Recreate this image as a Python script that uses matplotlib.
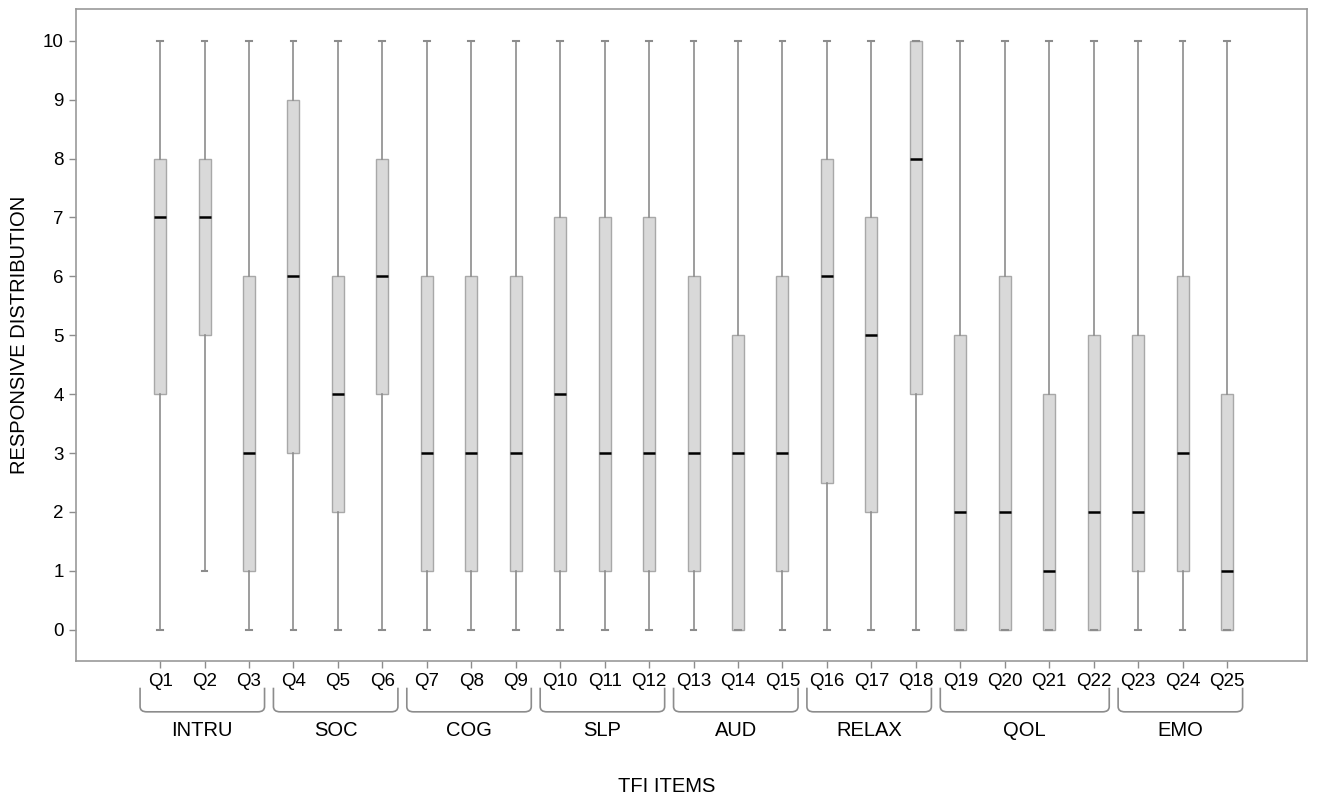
import numpy as np
import matplotlib
matplotlib.use("Agg")
import matplotlib.pyplot as plt
from matplotlib.path import Path
from matplotlib.patches import PathPatch
from matplotlib.transforms import blended_transform_factory

plt.rcParams['font.family'] = ['Liberation Sans', 'DejaVu Sans']

# data: min, q1, median, q3, max per item
items = ["Q%d" % i for i in range(1, 26)]
whislo = [0, 1, 0, 0, 0, 0, 0, 0, 0, 0, 0, 0, 0, 0, 0, 0, 0, 0, 0, 0, 0, 0, 0, 0, 0]
q1 = [4, 5, 1, 3, 2, 4, 1, 1, 1, 1, 1, 1, 1, 0, 1, 2.5, 2, 4, 0, 0, 0, 0, 1, 1, 0]
med = [7, 7, 3, 6, 4, 6, 3, 3, 3, 4, 3, 3, 3, 3, 3, 6, 5, 8, 2, 2, 1, 2, 2, 3, 1]
q3 = [8, 8, 6, 9, 6, 8, 6, 6, 6, 7, 7, 7, 6, 5, 6, 8, 7, 10, 5, 6, 4, 5, 5, 6, 4]
whishi = [10] * 25

groups = ["INTRU", "SOC", "COG", "SLP", "AUD", "RELAX", "QOL", "EMO"]
group_start = [1, 4, 7, 10, 13, 16, 19, 23]
group_end = [3, 6, 9, 12, 15, 18, 22, 25]

stats = []
for i in range(len(items)):
    stats.append(dict(whislo=whislo[i], q1=q1[i], med=med[i], q3=q3[i],
                      whishi=whishi[i], fliers=[], label=items[i]))

fig = plt.figure(figsize=(13.18, 7.95), dpi=100)
ax = fig.add_axes([0.0577, 0.1686, 0.934, 0.8201])

pos = np.arange(1, len(items) + 1)
ax.bxp(stats, positions=pos, widths=0.27, patch_artist=True, showfliers=False,
       boxprops=dict(facecolor="#d9d9d9", edgecolor="#a8a8a8", linewidth=1.0),
       whiskerprops=dict(color="#8c8c8c", linewidth=1.2),
       capprops=dict(color="#8c8c8c", linewidth=1.5),
       medianprops=dict(color="black", linewidth=1.8),
       capwidths=0.13)

ax.set_xlim(-0.89, 26.8)
ax.set_ylim(-0.53, 10.54)
ax.set_yticks(range(0, 11))
ax.set_xticks(pos)
ax.set_xticklabels(items)
ax.tick_params(axis="both", colors="#8c8c8c", labelcolor="black", labelsize=13.5,
               length=5, width=1)
ax.tick_params(axis="y", pad=4)
for s in ax.spines.values():
    s.set_color("#999999")
    s.set_linewidth(1.2)
ax.set_ylabel("RESPONSIVE DISTRIBUTION", fontsize=14.5, labelpad=10)

# group braces below the axis
tr = blended_transform_factory(ax.transData, ax.transAxes)
top, bot, r = -0.041, -0.078, 0.15
for name, a, b in zip(groups, group_start, group_end):
    x0, x1 = a - 0.45, b + 0.35
    verts = [(x0, top), (x0, bot + 0.008), (x0, bot), (x0 + r, bot),
             (x1 - r, bot), (x1, bot), (x1, bot + 0.008), (x1, top)]
    codes = [Path.MOVETO, Path.LINETO, Path.CURVE3, Path.CURVE3,
             Path.LINETO, Path.CURVE3, Path.CURVE3, Path.LINETO]
    ax.add_patch(PathPatch(Path(verts, codes), transform=tr, clip_on=False,
                           fill=False, edgecolor="#8c8c8c", linewidth=1.2))
    ax.text((x0 + x1) / 2, -0.106, name, transform=tr, ha="center", va="center",
            fontsize=14.5)

fig.text(667 / 1318, 1 - 786 / 795, "TFI ITEMS", ha="center", va="center",
         fontsize=14.5)

fig.savefig("out.png", dpi=100)
